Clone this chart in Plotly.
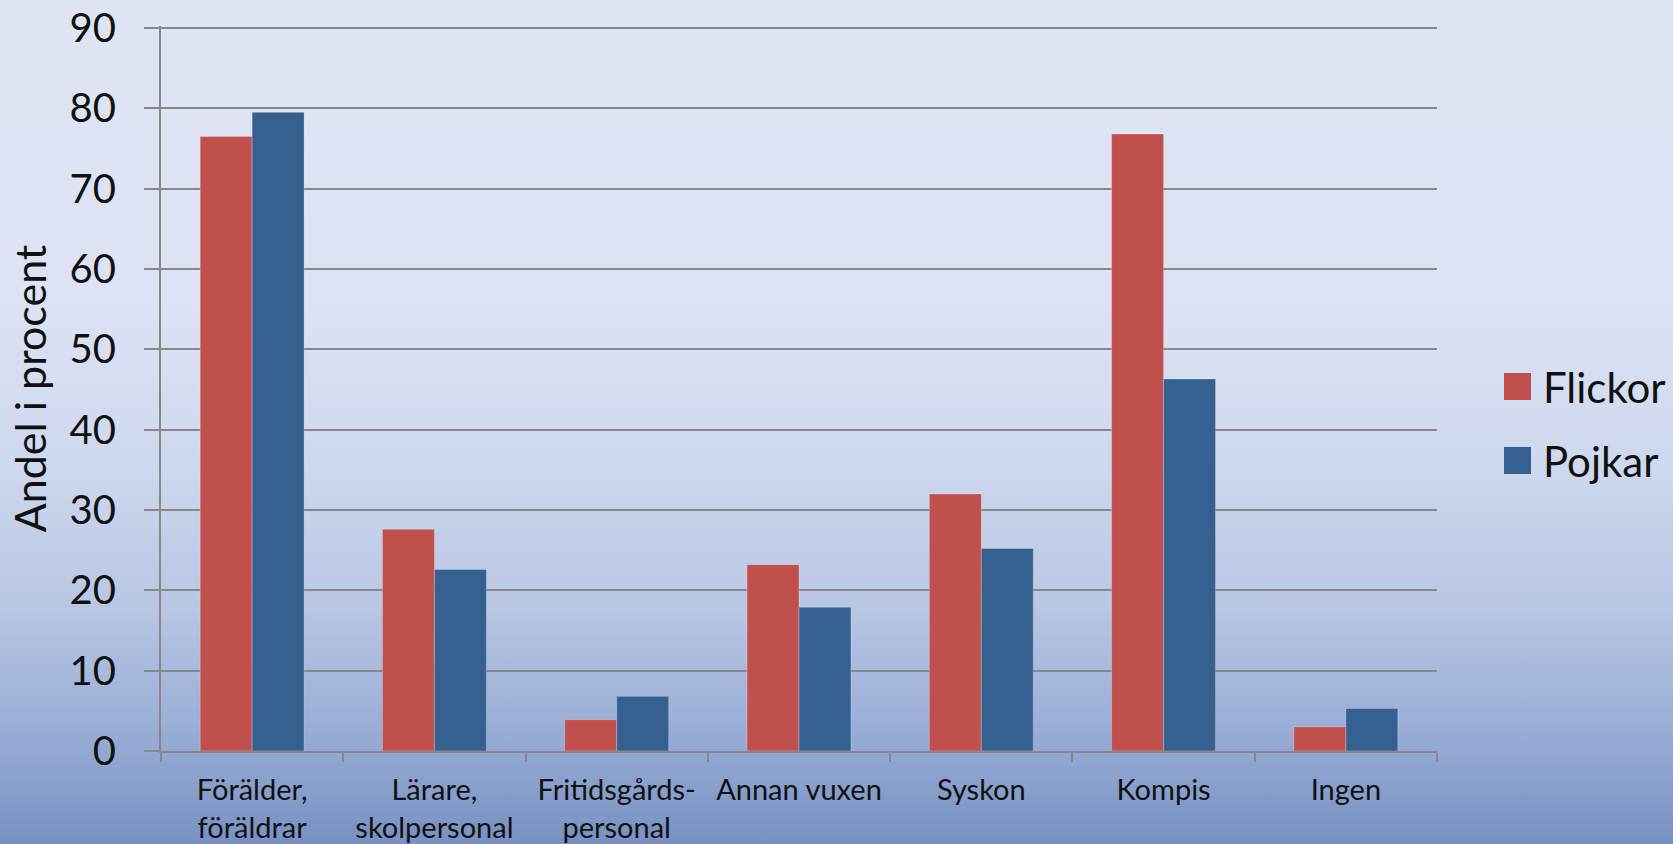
import base64
import plotly.graph_objects as go

categories = ["Förälder,<br>föräldrar", "Lärare,<br>skolpersonal", "Fritidsgårds-<br>personal",
              "Annan vuxen", "Syskon", "Kompis", "Ingen"]
series_names = ["Flickor", "Pojkar"]
flickor = [76.5, 27.6, 3.9, 23.2, 32.0, 76.8, 3.0]
pojkar = [79.5, 22.6, 6.8, 17.9, 25.2, 46.3, 5.3]
colors = ["#c0504d", "#35608f"]
y_title = "Andel i procent"
y_ticks = [0, 10, 20, 30, 40, 50, 60, 70, 80, 90]

W, H = 1673, 844
L, R, T, B = 161, 236, 26, 93
pw, ph = W - L - R, H - T - B

svg = f'''<svg xmlns="http://www.w3.org/2000/svg" width="{W}" height="{H}" preserveAspectRatio="none">
<defs><linearGradient id="g" x1="0" y1="0" x2="0" y2="1">
<stop offset="0" stop-color="#dfe4f2"/>
<stop offset="0.35" stop-color="#dde3f4"/>
<stop offset="0.55" stop-color="#ced8ee"/>
<stop offset="0.72" stop-color="#b9c6e4"/>
<stop offset="0.86" stop-color="#9aaed7"/>
<stop offset="1" stop-color="#7891c2"/>
</linearGradient></defs>
<rect x="0" y="0" width="{W}" height="{H}" fill="url(#g)"/></svg>'''
src = "data:image/svg+xml;base64," + base64.b64encode(svg.encode()).decode()

fig = go.Figure()
for name, vals, c in zip(series_names, [flickor, pojkar], colors):
    fig.add_trace(go.Bar(x=categories, y=vals, name=name, marker_color=c,
                         marker_line=dict(color="rgba(255,255,255,0.25)", width=1),
                         showlegend=False))

font = "Lato, 'Open Sans', sans-serif"
grid = "#888888"

# manual legend
shapes = []
annotations = []
for i, (name, c) in enumerate(zip(series_names, colors)):
    yc = 386.5 + 74 * i
    y0 = (H - B - (yc + 13.5)) / ph
    y1 = (H - B - (yc - 13.5)) / ph
    x0 = (1504 - L) / pw
    x1 = (1531 - L) / pw
    shapes.append(dict(type="rect", xref="paper", yref="paper", x0=x0, x1=x1, y0=y0, y1=y1,
                       fillcolor=c, line=dict(width=0)))
    annotations.append(dict(xref="paper", yref="paper", x=(1541 - L) / pw, y=(H - B - yc) / ph,
                            xanchor="left", yanchor="middle", text=name, showarrow=False,
                            font=dict(family=font, size=42, color="#111111")))

fig.update_layout(
    width=W, height=H,
    margin=dict(l=L, r=R, t=T, b=B),
    paper_bgcolor="#dfe4f2",
    plot_bgcolor="rgba(0,0,0,0)",
    barmode="group", bargap=0.43, bargroupgap=0,
    font=dict(family=font, color="#111111"),
    shapes=shapes, annotations=annotations,
    images=[dict(source=src, xref="paper", yref="paper", x=-L / pw, y=1 + T / ph,
                 sizex=W / pw, sizey=H / ph, sizing="stretch", xanchor="left", yanchor="top",
                 layer="below")],
    xaxis=dict(showline=True, linecolor=grid, linewidth=2, ticks="outside", tickson="boundaries",
               ticklen=9, tickcolor=grid, tickwidth=1.5, showgrid=False, automargin=False,
               tickfont=dict(family=font, size=29, color="#111111"), ticklabelstandoff=12,
               fixedrange=True),
    yaxis=dict(range=[0, 90.25], tickvals=y_ticks, showline=True, linecolor=grid, linewidth=2,
               ticks="outside", ticklen=15, tickcolor=grid, tickwidth=1.5, automargin=False,
               showgrid=True, gridcolor=grid, gridwidth=1.5, zeroline=False,
               tickfont=dict(family=font, size=40, color="#111111"), ticklabelstandoff=20,
               title=dict(text=y_title, font=dict(family=font, size=43, color="#111111"), standoff=10)),
)
fig.write_html("out.html", config={"displayModeBar": False},
               post_script="document.body.style.margin='0';document.body.style.overflow='hidden';")
